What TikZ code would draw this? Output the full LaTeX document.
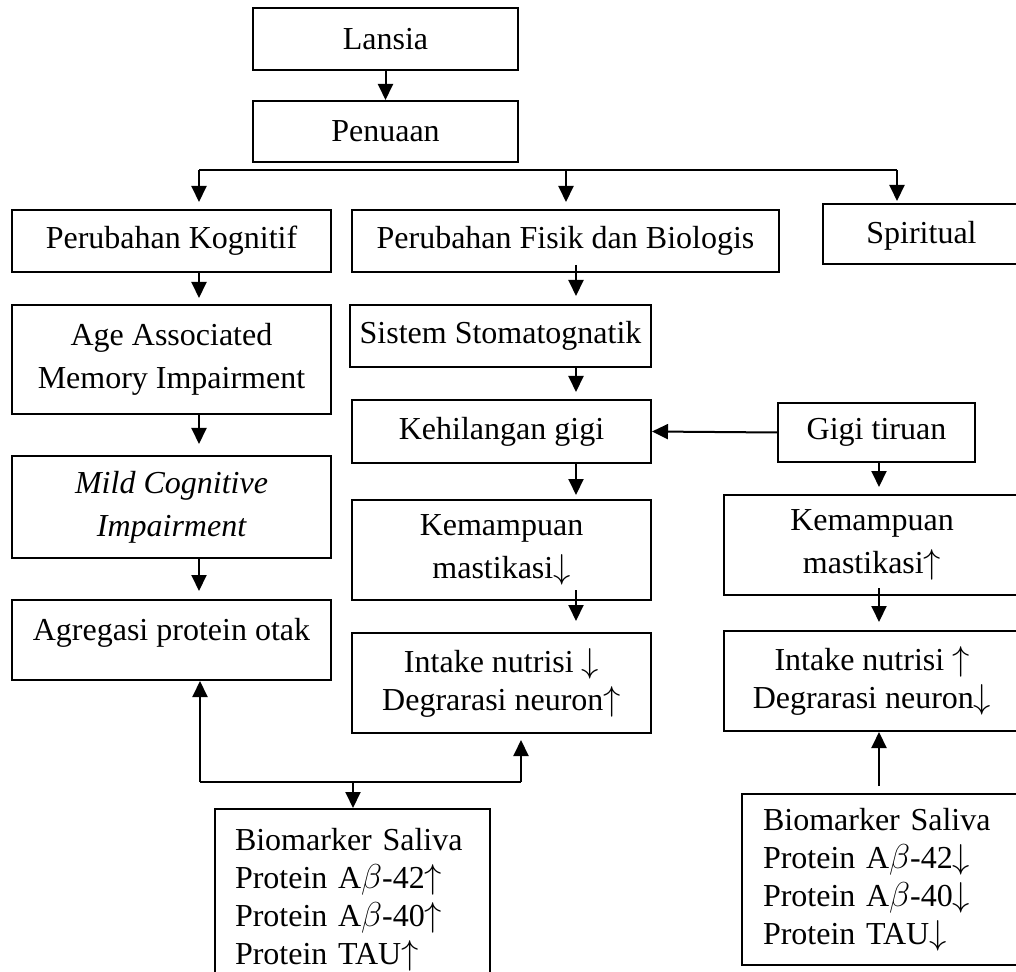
\documentclass[tikz,border=0pt]{standalone}
\usepackage{fontspec}
\setmainfont{Liberation Serif}
\usetikzlibrary{arrows.meta}

\begin{document}
\begin{tikzpicture}[x=0.5pt,y=-0.5pt,
  kotak/.style={draw,line width=1pt,align=center,inner sep=0pt,font=\fontsize{16}{21.5}\selectfont},
  rapat/.style={font=\fontsize{16}{19}\selectfont},
  panah/.style={-{Triangle[length=8pt,width=7.5pt]},line width=1pt}]
\useasboundingbox (0,0) rectangle (1016,972);

\node[kotak,minimum width=132.5pt,minimum height=31pt] (lansia) at (385.5,39) {Lansia};
\node[kotak,minimum width=132.5pt,minimum height=30.5pt] (penuaan) at (385.5,131.5) {Penuaan};

\node[kotak,minimum width=159.5pt,minimum height=31pt] (kognitif) at (171.5,241) {Perubahan Kognitif};
\node[kotak,minimum width=213.5pt,minimum height=31pt] (fisik) at (565.5,241) {Perubahan Fisik dan Biologis};
\node[kotak,minimum width=98.5pt,text height=20pt,text depth=10pt] (spiritual) at (921.5,234) {Spiritual};

\node[kotak,minimum width=159.5pt,minimum height=54.5pt] (aami) at (171.5,359.5) {Age Associated\\Memory Impairment};
\node[kotak,minimum width=159.5pt,minimum height=51pt] (mci) at (171.5,507) {\itshape Mild Cognitive\\\itshape Impairment};
\node[kotak,minimum width=159.5pt,text height=20pt,text depth=20pt] (agregasi) at (171.5,640) {Agregasi protein otak};

\node[kotak,minimum width=150.5pt,minimum height=31pt] (stoma) at (500.5,336) {Sistem Stomatognatik};
\node[kotak,minimum width=149.5pt,minimum height=31.5pt] (kehilangan) at (501.5,431.5) {Kehilangan gigi};
\node[kotak,minimum width=98.5pt,minimum height=29.5pt] (tiruan) at (876.5,432.5) {Gigi tiruan};

\node[kotak,minimum width=149.5pt,minimum height=50pt] (mastikasiA) at (501.5,550) {Kemampuan\\mastikasi$\downarrow$};
\node[kotak,rapat,minimum width=149.5pt,minimum height=50pt] (intakeA) at (501.5,683) {Intake nutrisi $\downarrow$\\Degrarasi neuron$\uparrow$};
\node[kotak,minimum width=148pt,minimum height=50pt] (mastikasiB) at (872,545) {Kemampuan\\mastikasi$\uparrow$};
\node[kotak,rapat,minimum width=148pt,minimum height=50pt] (intakeB) at (872,681) {Intake nutrisi $\uparrow$\\Degrarasi neuron$\downarrow$};

\node[kotak,rapat,align=left,inner xsep=10pt,text width=117.5pt,minimum height=90.5pt] (salivaA) at (352.5,899.5)
  {Biomarker Saliva\\Protein A$\beta$-42$\uparrow$\\Protein A$\beta$-40$\uparrow$\\Protein TAU$\uparrow$};
\node[kotak,rapat,align=left,inner xsep=10.5pt,text width=118pt,minimum height=85.5pt] (salivaB) at (881,879.5)
  {Biomarker Saliva\\Protein A$\beta$-42$\downarrow$\\Protein A$\beta$-40$\downarrow$\\Protein TAU$\downarrow$};

\coordinate (cabangA) at (199,170);
\coordinate (cabangB) at (566,170);
\coordinate (cabangC) at (897,170);
\coordinate (kolomA) at (199,0);
\coordinate (kolomB) at (576,0);
\coordinate (kolomC) at (879,0);
\coordinate (sudutA) at (200,782);
\coordinate (sudutB) at (521,782);
\coordinate (turun) at (353,782);

\path[draw,panah] (lansia) -- (penuaan);
\path[draw,line width=0.8pt] (cabangA) -- (cabangC);
\path[draw,panah,shorten >=3.5pt] (cabangA) -- (kognitif.north -| cabangA);
\path[draw,panah,shorten >=3.5pt] (cabangB) -- (fisik.north -| cabangB);
\path[draw,panah,shorten >=1pt] (cabangC) -- (spiritual.north -| cabangC);

\path[draw,panah,shorten >=3pt] (kognitif.south -| kolomA) -- (aami.north -| kolomA);
\path[draw,panah,shorten >=5.5pt] (aami.south -| kolomA) -- (mci.north -| kolomA);
\path[draw,panah,shorten >=4pt] (mci.south -| kolomA) -- (agregasi.north -| kolomA);

\path[draw,panah] ([yshift=4pt]fisik.south -| kolomB) -- ([yshift=4pt]stoma.north -| kolomB);
\path[draw,panah,shorten >=3.5pt] (stoma.south -| kolomB) -- (kehilangan.north -| kolomB);
\path[draw,panah,shorten >=2pt] (kehilangan.south -| kolomB) -- (mastikasiA.north -| kolomB);
\path[draw,panah] ([yshift=5.5pt]mastikasiA.south -| kolomB) -- ([yshift=5.5pt]intakeA.north -| kolomB);

\path[draw,panah] (tiruan.west) -- (kehilangan.east);
\path[draw,panah,shorten >=3.5pt] (tiruan.south -| kolomC) -- (mastikasiB.north -| kolomC);
\path[draw,panah] ([yshift=4pt]mastikasiB.south -| kolomC) -- ([yshift=4pt]intakeB.north -| kolomC);
\path[draw,panah] ([yshift=3.5pt]salivaB.north -| kolomC) -- (intakeB.south -| kolomC);

\path[draw,line width=0.8pt] (sudutA) -- (sudutB);
\path[draw,panah] (sudutA) -- (agregasi.south -| sudutA);
\path[draw,panah,shorten >=3pt] (sudutB) -- (intakeA.south -| sudutB);
\path[draw,panah] (turun) -- (salivaA.north -| turun);
\end{tikzpicture}
\end{document}
